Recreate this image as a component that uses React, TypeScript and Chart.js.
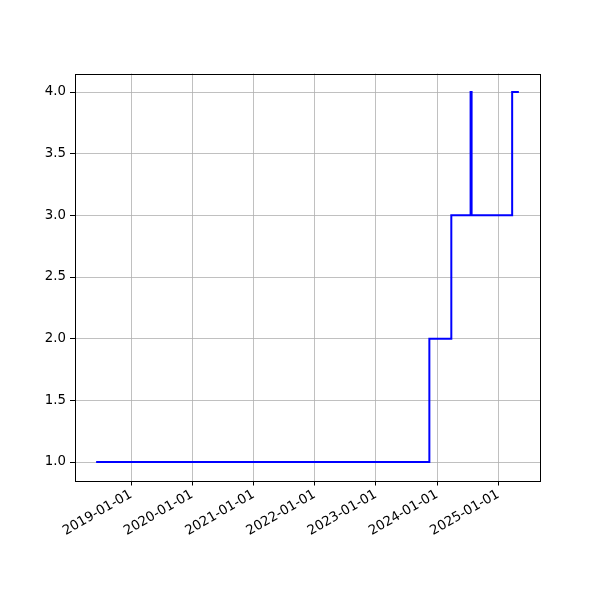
import React, { useEffect, useRef } from "react";
import { Chart, registerables } from "chart.js";

Chart.register(...registerables);

const stepDates: string[] = [
  "2018-06-07",
  "2023-11-16",
  "2024-03-26",
  "2024-07-19",
  "2024-07-25",
  "2025-03-24",
  "2025-05-03",
];
const stepValues: number[] = [1, 2, 3, 4, 3, 4, 4];
const xTickLabels: string[] = [
  "2019-01-01",
  "2020-01-01",
  "2021-01-01",
  "2022-01-01",
  "2023-01-01",
  "2024-01-01",
  "2025-01-01",
];
const yTickValues: number[] = [1.0, 1.5, 2.0, 2.5, 3.0, 3.5, 4.0];

const toMs = (s: string) => {
  const [y, m, d] = s.split("-").map(Number);
  return Date.UTC(y, m - 1, d);
};
const fmtDate = (v: number) => {
  const d = new Date(v);
  const p = (n: number) => String(n).padStart(2, "0");
  return `${d.getUTCFullYear()}-${p(d.getUTCMonth() + 1)}-${p(d.getUTCDate())}`;
};

const FONT = { family: "'DejaVu Sans', sans-serif", size: 13.33 };

const frame = {
  id: "frame",
  afterDatasetsDraw(chart: any) {
    const { ctx, chartArea: a } = chart;
    ctx.save();
    ctx.strokeStyle = "#000";
    ctx.lineWidth = 1;
    ctx.strokeRect(Math.round(a.left) + 0.5, Math.round(a.top) + 0.5, Math.round(a.right - a.left), Math.round(a.bottom - a.top));
    ctx.restore();
  },
};

export default function App() {
  const ref = useRef<HTMLCanvasElement | null>(null);
  useEffect(() => {
    if (!ref.current) return;
    const xs = stepDates.map(toMs);
    const xMin = Math.min(...xs);
    const xMax = Math.max(...xs);
    const xm = (xMax - xMin) * 0.05;
    const yMin = Math.min(...stepValues);
    const yMax = Math.max(...stepValues);
    const ym = (yMax - yMin) * 0.05;
    const chart = new Chart(ref.current, {
      type: "line",
      data: {
        datasets: [
          {
            data: xs.map((x, i) => ({ x, y: stepValues[i] })),
            borderColor: "#0000ff",
            borderWidth: 2,
            pointRadius: 0,
            stepped: "before",
            fill: false,
          },
        ],
      },
      options: {
        animation: false,
        responsive: false,
        events: [],
        layout: { padding: { top: 73.5, right: 60, left: 0, bottom: 0 } },
        plugins: { legend: { display: false }, tooltip: { enabled: false } },
        scales: {
          x: {
            type: "linear",
            min: xMin - xm,
            max: xMax + xm,
            afterBuildTicks: (s: any) => {
              s.ticks = xTickLabels.map((l) => ({ value: toMs(l) }));
            },
            afterFit: (s: any) => {
              s.height = 119.5;
            },
            border: { display: false },
            grid: { color: "#b0b0b0", lineWidth: 0.8, tickColor: "#000", tickLength: 5, tickWidth: 1 },
            ticks: {
              color: "#000",
              font: FONT,
              minRotation: 30,
              maxRotation: 30,
              padding: 1,
              autoSkip: false,
              callback: (v: any) => fmtDate(Number(v)),
            },
          },
          y: {
            type: "linear",
            min: yMin - ym,
            max: yMax + ym,
            afterBuildTicks: (s: any) => {
              s.ticks = yTickValues.map((v) => ({ value: v }));
            },
            afterFit: (s: any) => {
              s.width = 75;
            },
            border: { display: false },
            grid: { color: "#b0b0b0", lineWidth: 0.8, tickColor: "#000", tickLength: 5, tickWidth: 1 },
            ticks: {
              color: "#000",
              font: FONT,
              padding: 4,
              callback: (v: any) => Number(v).toFixed(1),
            },
          },
        },
      },
      plugins: [frame],
    });
    return () => chart.destroy();
  }, []);
  return (
    <div style={{ position: "fixed", left: 0, top: 0, width: 600, height: 600, background: "#fff" }}>
      <canvas ref={ref} width={600} height={600} style={{ width: 600, height: 600 }} />
    </div>
  );
}
